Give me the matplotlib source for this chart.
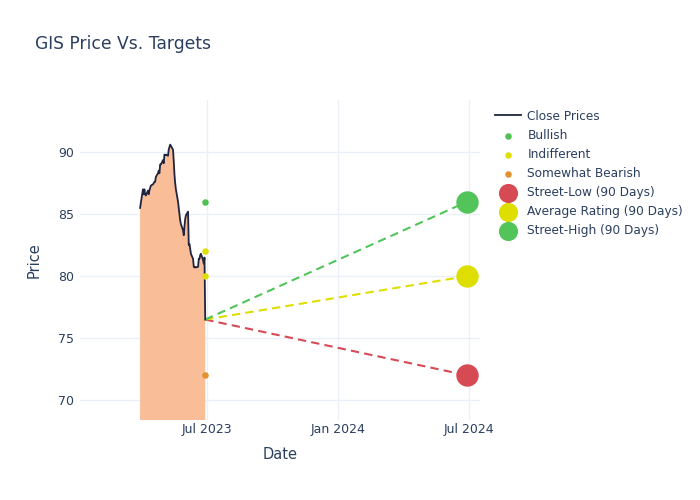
import matplotlib
matplotlib.use("Agg")
import matplotlib.pyplot as plt
import matplotlib.dates as mdates
import pandas as pd


TICKER = "GIS"
FIRST_DAY = "2023-03-30"
LAST_DAY = "2023-06-29"
TARGET_DAY = "2024-06-29"

close_prices = [
    85.5, 85.9,
    87.0, 86.6, 87.0, 86.6, 86.5, 86.9, 86.6, 86.9, 87.1, 87.3,
    87.4, 87.5, 87.6, 87.6, 88.0, 88.3, 88.5, 88.3, 89.0, 89.0,
    89.35, 89.1, 89.8, 89.75, 89.8, 89.7, 90.2, 90.4, 90.6, 90.5,
    90.2, 89.3, 88.2, 87.5, 87.0, 86.0, 85.5, 85.0, 84.5, 84.2,
    83.7, 83.3, 84.0,
    84.6, 84.9, 85.2, 82.5, 82.6, 82.2, 81.8, 81.4, 80.75, 80.7,
    80.75, 80.7, 80.75, 81.4, 81.4, 81.7, 81.8, 81.3, 81.0, 81.5,
    76.5,
]

rating_labels = ["Bullish", "Indifferent", "Indifferent", "Somewhat Bearish"]
rating_targets = [86, 82, 80, 72]

street_labels = ["Street-Low (90 Days)", "Average Rating (90 Days)", "Street-High (90 Days)"]
street_targets = [72, 80, 86]

TEXT = "#2a3f5f"
GRID = "#ebf0f8"
rating_colors = {"Bullish": "#4fc152", "Indifferent": "#dede00", "Somewhat Bearish": "#e0922c"}
street_colors = ["#d64a53", "#dede00", "#52c45a"]


def main():
    dates = pd.bdate_range(FIRST_DAY, LAST_DAY)
    last_day = dates[-1]
    last_price = close_prices[-1]
    target_day = pd.Timestamp(TARGET_DAY)

    fig = plt.figure(figsize=(7, 5), dpi=100)
    ax = fig.add_axes([80 / 700, 80 / 500, 400 / 700, 320 / 500])

    ax.fill_between(dates, close_prices, 0, color="#f9bd98", linewidth=0, zorder=1)
    ax.plot(dates, close_prices, color="#1f2440", linewidth=1.3, label="Close Prices", zorder=3)

    for label in ["Bullish", "Indifferent", "Somewhat Bearish"]:
        values = [v for l, v in zip(rating_labels, rating_targets) if l == label]
        ax.scatter([last_day] * len(values), values, s=22, color=rating_colors[label],
                   label=label, zorder=4, linewidths=0)

    for label, value, color in zip(street_labels, street_targets, street_colors):
        ax.plot([last_day, target_day], [last_price, value], linestyle=(0, (4, 2.5)),
                color=color, linewidth=1.5, zorder=2)
    for label, value, color in zip(street_labels, street_targets, street_colors):
        ax.scatter([target_day], [value], s=260, color=color, label=label,
                   zorder=5, linewidths=0)

    ax.set_xlim(pd.Timestamp("2023-01-05"), pd.Timestamp("2024-07-17"))
    ax.set_ylim(68.4, 94.2)
    ax.set_yticks([70, 75, 80, 85, 90])
    ax.xaxis.set_major_locator(mdates.MonthLocator(bymonth=[1, 7]))
    ax.xaxis.set_major_formatter(mdates.DateFormatter("%b %Y"))

    ax.grid(True, color=GRID, linewidth=1)
    ax.set_axisbelow(True)
    for spine in ax.spines.values():
        spine.set_visible(False)
    ax.tick_params(length=0, labelsize=9, labelcolor=TEXT)
    ax.tick_params(axis="x", pad=2)
    ax.tick_params(axis="y", pad=4)

    ax.set_xlabel("Date", fontsize=10.5, color=TEXT, labelpad=8)
    ax.set_ylabel("Price", fontsize=10.5, color=TEXT, labelpad=12)

    fig.text(35 / 700, 1 - 44 / 500, f"{TICKER} Price Vs. Targets", fontsize=12.3,
             color=TEXT, va="center", ha="left")

    legend = ax.legend(loc="upper left", bbox_to_anchor=(1.025, 0.985), frameon=False,
                       fontsize=8.7, labelspacing=0.5, handlelength=2.2, handletextpad=0.5,
                       borderaxespad=0)
    for text in legend.get_texts():
        text.set_color(TEXT)
    for handle in legend.legend_handles[4:]:
        handle.set_sizes([190])

    fig.savefig("out.png", dpi=100, facecolor="white")


if __name__ == "__main__":
    main()
